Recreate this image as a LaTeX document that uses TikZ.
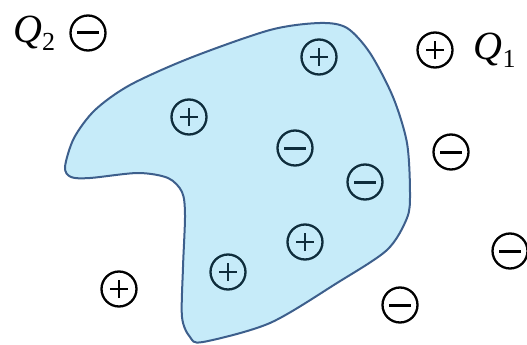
\documentclass[tikz,border=0pt]{standalone}
\usepackage{fontspec}
\setmainfont{Liberation Serif}
\usetikzlibrary{positioning}
\definecolor{blobfill}{HTML}{C6EBF9}
\definecolor{blobline}{HTML}{3D5F8C}
\definecolor{innerdark}{HTML}{0F2D3C}
\tikzset{
  charge/.style={circle, draw=#1, line width=2.3pt, minimum size=35pt, inner sep=0pt},
  pos/.style={charge=#1, path picture={
      \draw[#1, line width=2.6pt] ([xshift=-9pt]path picture bounding box.center) -- ([xshift=9pt]path picture bounding box.center);
      \draw[#1, line width=2.6pt] ([yshift=-9pt]path picture bounding box.center) -- ([yshift=9pt]path picture bounding box.center);}},
  neg/.style={charge=#1, path picture={
      \draw[#1, line width=3pt] ([xshift=-11pt]path picture bounding box.center) -- ([xshift=11pt]path picture bounding box.center);}},
  qlabel/.style={font=\fontsize{40}{40}\selectfont, inner sep=0pt}
}
\begin{document}
\begin{tikzpicture}[x=1pt, y=-1pt]
    \useasboundingbox (0,0) rectangle (527,345);

    % Conductor body
    \draw[blobline, line width=2pt, fill=blobfill]
        plot[smooth cycle, tension=0.5] coordinates {
            (65,167) (71,177) (90,178) (138,173) (168,178) (182,192) (185,215)
            (183,267) (182,317) (190,337) (203,342) (270,323) (337,283)
            (387,250) (407,218) (410,193) (407,143) (393,97) (370,53)
            (347,28) (320,23) (270,30) (190,58) (130,85) (95,110) (74,138)};

    % Charges inside the body
    \node (in1) at (319,57)  [pos=innerdark] {};
    \node (in2) at (189,117) [pos=innerdark] {};
    \node (in3) at (295,148) [neg=innerdark] {};
    \node (in4) at (365,182) [neg=innerdark] {};
    \node (in5) at (305,242) [pos=innerdark] {};
    \node (in6) at (228,272) [pos=innerdark] {};

    % Charges outside
    \node (out1) at (88,33)   [neg=black] {};
    \node (out2) at (435,50)  [pos=black] {};
    \node (out3) at (451,152) [neg=black] {};
    \node (out4) at (510,251) [neg=black] {};
    \node (out5) at (400,305) [neg=black] {};
    \node (out6) at (119,289) [pos=black] {};

    % Labels
    \node (q2) [qlabel, left=14pt of out1] {\textit{Q}\raisebox{-0.2em}{\fontsize{26}{26}\selectfont 2}};
    \node (q1) [qlabel, right=20pt of out2] {\textit{Q}\raisebox{-0.2em}{\fontsize{26}{26}\selectfont 1}};
\end{tikzpicture}
\end{document}
